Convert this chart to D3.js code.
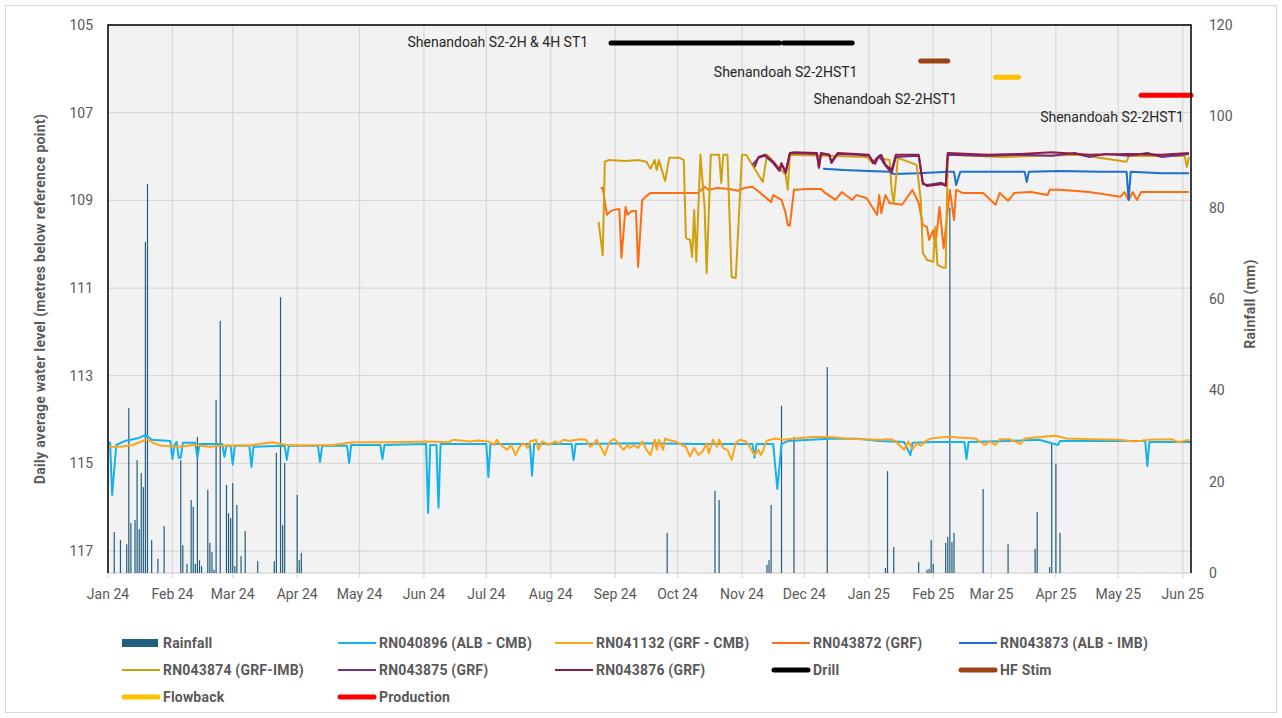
<!DOCTYPE html>
<meta charset="utf-8">
<style>
body { margin: 0; background: #fff; }
text { font-family: Roboto, "Open Sans", sans-serif; }
.tick-label { font-size: 14px; fill: #595959; }
.axis-title { font-size: 14px; font-weight: bold; fill: #595959; letter-spacing: 0.3px; }
.legend text { font-size: 14px; font-weight: bold; fill: #595959; letter-spacing: 0.2px; }
.note { font-size: 14px; fill: #262626; }
.grid line { stroke: #d9d9d9; stroke-width: 1.3px; }
.series { fill: none; stroke-width: 2px; stroke-linejoin: round; }
.event { stroke-width: 5px; stroke-linecap: round; }
</style>
<svg width="1282" height="718"></svg>
<script src="https://cdn.jsdelivr.net/npm/d3@7"></script>
<script>

// ---- data ----
var monthTicks = ["2024-01-01","2024-02-01","2024-03-01","2024-04-01","2024-05-01","2024-06-01","2024-07-01","2024-08-01","2024-09-01","2024-10-01","2024-11-01","2024-12-01","2025-01-01","2025-02-01","2025-03-01","2025-04-01","2025-05-01","2025-06-01"];
var levelTicks = [105, 107, 109, 111, 113, 115, 117];
var rainTicks = [0, 20, 40, 60, 80, 100, 120];

var rainfall = [["2024-01-04",9.0],["2024-01-07",7.2],["2024-01-10",6.3],["2024-01-11",36.1],["2024-01-12",10.9],["2024-01-14",11.6],["2024-01-15",24.7],["2024-01-16",9.6],["2024-01-17",21.9],["2024-01-18",18.8],["2024-01-19",72.5],["2024-01-20",85.2],["2024-01-22",7.2],["2024-01-25",3.1],["2024-01-28",10.3],["2024-02-05",24.7],["2024-02-06",6.1],["2024-02-08",2.0],["2024-02-10",16.0],["2024-02-11",14.5],["2024-02-12",2.0],["2024-02-13",29.8],["2024-02-14",2.8],["2024-02-15",1.5],["2024-02-18",18.2],["2024-02-19",6.6],["2024-02-20",4.6],["2024-02-21",0.7],["2024-02-22",37.9],["2024-02-24",55.2],["2024-02-27",19.3],["2024-02-28",13.1],["2024-02-29",12.0],["2024-03-01",19.7],["2024-03-02",1.5],["2024-03-03",14.9],["2024-03-05",3.7],["2024-03-07",9.2],["2024-03-13",2.6],["2024-03-21",2.6],["2024-03-22",26.3],["2024-03-24",60.4],["2024-03-25",10.5],["2024-03-26",24.1],["2024-04-01",17.1],["2024-04-02",2.8],["2024-04-03",4.4],["2024-09-26",8.8],["2024-10-19",18.0],["2024-10-21",16.0],["2024-11-13",1.8],["2024-11-14",2.8],["2024-11-15",14.9],["2024-11-20",36.6],["2024-11-26",29.8],["2024-12-12",45.1],["2025-01-09",1.1],["2025-01-10",22.3],["2025-01-13",5.7],["2025-01-25",2.4],["2025-01-29",0.7],["2025-01-30",0.9],["2025-01-31",7.2],["2025-02-01",2.0],["2025-02-07",6.6],["2025-02-08",7.9],["2025-02-09",80.0],["2025-02-10",6.8],["2025-02-11",8.8],["2025-02-25",18.4],["2025-03-09",6.3],["2025-03-22",5.3],["2025-03-23",13.4],["2025-03-29",1.3],["2025-03-30",28.2],["2025-04-01",23.9],["2025-04-03",8.8]];

var rn040896 = [["2024-01-01",114.53],["2024-01-02",114.53],["2024-01-03",115.72],["2024-01-05",114.58],["2024-01-09",114.49],["2024-01-16",114.42],["2024-01-19",114.35],["2024-01-22",114.46],["2024-01-31",114.49],["2024-02-01",114.90],["2024-02-02",114.58],["2024-02-03",114.51],["2024-02-04",114.87],["2024-02-05",114.87],["2024-02-06",114.53],["2024-02-12",114.53],["2024-02-13",114.87],["2024-02-14",114.56],["2024-02-25",114.56],["2024-02-26",114.85],["2024-02-27",114.60],["2024-02-29",114.60],["2024-03-01",115.03],["2024-03-02",114.60],["2024-03-09",114.60],["2024-03-10",115.08],["2024-03-11",114.62],["2024-03-26",114.60],["2024-03-27",114.92],["2024-03-28",114.60],["2024-04-11",114.60],["2024-04-12",114.97],["2024-04-13",114.60],["2024-04-25",114.60],["2024-04-26",114.99],["2024-04-27",114.58],["2024-05-11",114.58],["2024-05-12",114.90],["2024-05-13",114.58],["2024-06-02",114.56],["2024-06-03",116.13],["2024-06-04",114.58],["2024-06-07",114.58],["2024-06-08",116.01],["2024-06-09",114.56],["2024-07-01",114.56],["2024-07-02",115.31],["2024-07-03",114.56],["2024-07-22",114.56],["2024-07-23",115.28],["2024-07-24",114.56],["2024-08-11",114.56],["2024-08-12",114.92],["2024-08-13",114.56],["2024-09-15",114.54],["2024-10-10",114.56],["2024-11-06",114.56],["2024-11-07",114.87],["2024-11-08",114.56],["2024-11-16",114.56],["2024-11-18",115.58],["2024-11-20",114.56],["2024-11-23",114.49],["2024-12-13",114.44],["2024-12-27",114.44],["2025-01-06",114.49],["2025-01-18",114.51],["2025-01-21",114.81],["2025-01-22",114.53],["2025-02-01",114.51],["2025-02-16",114.51],["2025-02-17",114.90],["2025-02-18",114.51],["2025-03-09",114.49],["2025-03-24",114.46],["2025-04-02",114.58],["2025-04-03",114.49],["2025-04-21",114.49],["2025-05-14",114.49],["2025-05-15",115.06],["2025-05-16",114.51],["2025-06-05",114.51]];

var rn041132 = [["2024-01-01",114.62],["2024-01-07",114.62],["2024-01-13",114.58],["2024-01-17",114.50],["2024-01-20",114.45],["2024-01-23",114.54],["2024-01-27",114.60],["2024-02-04",114.62],["2024-02-11",114.58],["2024-02-19",114.62],["2024-02-27",114.59],["2024-03-09",114.59],["2024-03-20",114.52],["2024-03-27",114.58],["2024-04-05",114.59],["2024-04-18",114.58],["2024-04-28",114.52],["2024-05-12",114.52],["2024-05-24",114.51],["2024-06-02",114.50],["2024-06-13",114.52],["2024-06-15",114.46],["2024-06-23",114.50],["2024-06-27",114.48],["2024-07-02",114.50],["2024-07-05",114.58],["2024-07-06",114.46],["2024-07-08",114.58],["2024-07-11",114.69],["2024-07-13",114.58],["2024-07-15",114.81],["2024-07-17",114.62],["2024-07-19",114.54],["2024-07-21",114.65],["2024-07-22",114.50],["2024-07-25",114.46],["2024-07-26",114.69],["2024-07-28",114.50],["2024-07-31",114.58],["2024-08-03",114.50],["2024-08-05",114.54],["2024-08-07",114.46],["2024-08-10",114.49],["2024-08-15",114.45],["2024-08-18",114.46],["2024-08-20",114.62],["2024-08-22",114.54],["2024-08-23",114.46],["2024-08-25",114.62],["2024-08-27",114.81],["2024-08-29",114.54],["2024-08-31",114.45],["2024-09-01",114.46],["2024-09-03",114.58],["2024-09-05",114.69],["2024-09-07",114.58],["2024-09-08",114.65],["2024-09-10",114.58],["2024-09-12",114.65],["2024-09-14",114.50],["2024-09-16",114.69],["2024-09-18",114.81],["2024-09-20",114.46],["2024-09-21",114.69],["2024-09-22",114.46],["2024-09-24",114.69],["2024-09-25",114.43],["2024-09-26",114.46],["2024-09-30",114.50],["2024-10-03",114.58],["2024-10-05",114.62],["2024-10-07",114.84],["2024-10-09",114.65],["2024-10-11",114.81],["2024-10-13",114.73],["2024-10-15",114.54],["2024-10-16",114.77],["2024-10-18",114.46],["2024-10-20",114.62],["2024-10-21",114.46],["2024-10-23",114.65],["2024-10-25",114.69],["2024-10-27",114.92],["2024-10-29",114.54],["2024-10-31",114.46],["2024-11-03",114.50],["2024-11-05",114.65],["2024-11-06",114.73],["2024-11-07",114.81],["2024-11-09",114.69],["2024-11-10",114.81],["2024-11-11",114.73],["2024-11-12",114.58],["2024-11-13",114.48],["2024-11-17",114.43],["2024-11-21",114.46],["2024-11-26",114.43],["2024-12-05",114.40],["2024-12-13",114.40],["2024-12-21",114.43],["2024-12-29",114.45],["2025-01-06",114.46],["2025-01-12",114.45],["2025-01-14",114.50],["2025-01-18",114.69],["2025-01-20",114.50],["2025-01-22",114.68],["2025-01-24",114.54],["2025-01-26",114.60],["2025-01-28",114.50],["2025-01-31",114.43],["2025-02-04",114.41],["2025-02-09",114.39],["2025-02-13",114.41],["2025-02-21",114.43],["2025-02-26",114.58],["2025-02-28",114.50],["2025-03-03",114.58],["2025-03-05",114.45],["2025-03-10",114.45],["2025-03-15",114.56],["2025-03-17",114.43],["2025-03-26",114.39],["2025-04-01",114.37],["2025-04-06",114.43],["2025-04-19",114.45],["2025-05-01",114.46],["2025-05-09",114.50],["2025-05-16",114.46],["2025-05-27",114.45],["2025-05-30",114.52],["2025-06-04",114.46]];

var rn043872 = [["2024-08-25",108.72],["2024-08-26",108.72],["2024-08-28",109.33],["2024-08-30",109.24],["2024-09-02",109.20],["2024-09-03",109.20],["2024-09-04",110.31],["2024-09-06",109.15],["2024-09-07",109.33],["2024-09-09",109.24],["2024-09-11",109.24],["2024-09-12",110.52],["2024-09-14",108.99],["2024-09-15",108.95],["2024-09-16",108.90],["2024-09-18",108.83],["2024-10-07",108.83],["2024-10-11",108.83],["2024-10-14",108.69],["2024-10-16",108.76],["2024-10-20",108.72],["2024-10-26",108.74],["2024-10-30",108.78],["2024-11-02",108.72],["2024-11-06",108.69],["2024-11-08",108.76],["2024-11-12",108.92],["2024-11-15",109.04],["2024-11-16",108.88],["2024-11-20",108.99],["2024-11-22",109.29],["2024-11-23",109.56],["2024-11-24",109.58],["2024-11-26",108.76],["2024-12-03",108.74],["2024-12-09",108.74],["2024-12-11",108.83],["2024-12-16",108.99],["2024-12-19",108.81],["2024-12-24",108.99],["2024-12-26",108.88],["2024-12-31",108.95],["2025-01-05",109.33],["2025-01-06",108.88],["2025-01-07",109.29],["2025-01-09",108.88],["2025-01-11",109.06],["2025-01-17",109.10],["2025-01-22",108.76],["2025-01-25",109.06],["2025-01-27",109.56],["2025-01-29",109.61],["2025-01-30",109.90],["2025-02-01",109.68],["2025-02-02",110.06],["2025-02-04",109.15],["2025-02-06",110.09],["2025-02-09",108.76],["2025-02-11",109.45],["2025-02-12",108.76],["2025-02-15",108.83],["2025-02-25",108.83],["2025-03-03",109.10],["2025-03-05",108.83],["2025-03-09",109.01],["2025-03-12",108.83],["2025-03-20",108.81],["2025-03-28",108.88],["2025-03-29",108.76],["2025-04-03",108.76],["2025-04-17",108.81],["2025-05-02",108.92],["2025-05-04",108.81],["2025-05-06",108.99],["2025-05-08",108.81],["2025-05-10",108.99],["2025-05-12",108.81],["2025-05-22",108.81],["2025-06-04",108.81]];

var rn043873 = [["2024-12-10",108.28],["2024-12-20",108.31],["2025-01-01",108.33],["2025-01-11",108.35],["2025-01-13",108.40],["2025-01-25",108.38],["2025-02-08",108.35],["2025-02-11",108.35],["2025-02-12",108.65],["2025-02-14",108.35],["2025-03-05",108.35],["2025-03-17",108.35],["2025-03-18",108.58],["2025-03-19",108.35],["2025-04-03",108.33],["2025-04-22",108.35],["2025-05-05",108.35],["2025-05-06",108.99],["2025-05-07",108.35],["2025-05-22",108.38],["2025-06-04",108.38]];

var rn043874 = [["2024-08-24",109.49],["2024-08-26",110.25],["2024-08-27",108.12],["2024-08-29",108.08],["2024-09-06",108.10],["2024-09-12",108.08],["2024-09-16",108.12],["2024-09-18",108.28],["2024-09-20",108.08],["2024-09-21",108.31],["2024-09-22",108.08],["2024-09-25",108.56],["2024-09-27",108.03],["2024-10-02",108.03],["2024-10-04",108.08],["2024-10-05",109.86],["2024-10-07",109.90],["2024-10-08",110.29],["2024-10-09",109.22],["2024-10-10",110.40],["2024-10-12",107.96],["2024-10-14",109.15],["2024-10-15",110.66],["2024-10-17",107.96],["2024-10-21",107.96],["2024-10-22",108.60],["2024-10-23",107.96],["2024-10-25",107.96],["2024-10-27",110.75],["2024-10-29",110.77],["2024-11-01",107.96],["2024-11-03",107.96],["2024-11-11",108.58],["2024-11-13",107.96],["2024-11-22",108.42],["2024-11-23",108.76],["2024-11-24",107.96],["2024-12-31",108.01],["2025-01-03",108.15],["2025-01-05",108.03],["2025-01-11",108.08],["2025-01-12",108.76],["2025-01-13",109.06],["2025-01-15",108.03],["2025-01-24",108.19],["2025-01-26",108.99],["2025-01-27",110.20],["2025-01-29",110.36],["2025-02-01",110.40],["2025-02-02",109.61],["2025-02-03",110.47],["2025-02-06",110.54],["2025-02-07",110.54],["2025-02-08",107.96],["2025-03-06",108.01],["2025-04-12",107.96],["2025-05-05",108.12],["2025-05-06",107.99],["2025-06-02",107.99],["2025-06-03",108.24],["2025-06-04",108.01]];

var rn043875 = [["2024-11-06",108.19],["2024-11-09",108.03],["2024-11-12",107.98],["2024-11-16",108.15],["2024-11-19",108.33],["2024-11-20",108.17],["2024-11-22",108.38],["2024-11-24",107.94],["2024-11-26",107.92],["2024-12-07",107.94],["2024-12-08",108.26],["2024-12-09",107.94],["2024-12-13",107.96],["2024-12-14",108.15],["2024-12-17",107.94],["2024-12-27",107.96],["2025-01-01",107.98],["2025-01-04",108.17],["2025-01-06",107.98],["2025-01-09",108.21],["2025-01-12",108.38],["2025-01-14",108.01],["2025-01-25",107.98],["2025-01-27",108.63],["2025-01-29",108.65],["2025-02-05",108.60],["2025-02-07",108.65],["2025-02-08",107.96],["2025-02-27",107.98],["2025-03-15",107.96],["2025-03-30",107.98],["2025-04-10",107.92],["2025-04-17",108.01],["2025-04-25",107.94],["2025-05-06",107.98],["2025-05-15",107.92],["2025-05-22",108.01],["2025-06-04",107.94]];

var rn043876 = [["2024-11-07",108.24],["2024-11-09",108.01],["2024-11-12",107.96],["2024-11-16",108.12],["2024-11-19",108.31],["2024-11-20",108.15],["2024-11-22",108.35],["2024-11-24",107.92],["2024-11-26",107.90],["2024-12-07",107.92],["2024-12-08",108.24],["2024-12-09",107.92],["2024-12-13",107.96],["2024-12-14",108.12],["2024-12-17",107.92],["2025-01-01",107.96],["2025-01-03",108.15],["2025-01-05",108.03],["2025-01-07",107.96],["2025-01-09",108.19],["2025-01-12",108.31],["2025-01-14",107.96],["2025-01-25",107.96],["2025-01-27",108.60],["2025-01-29",108.67],["2025-02-05",108.63],["2025-02-07",108.67],["2025-02-08",107.92],["2025-02-27",107.96],["2025-03-15",107.94],["2025-03-30",107.90],["2025-04-17",107.96],["2025-05-06",107.94],["2025-05-22",107.96],["2025-06-04",107.92]];

// activity bars: [start, end, level]
var drill = [["2024-08-30","2024-11-19",105.41],["2024-11-21","2024-12-24",105.41]];
var hfStim = [["2025-01-26","2025-02-08",105.82]];
var flowback = [["2025-03-03","2025-03-14",106.19]];
var production = [["2025-05-12","2025-06-05",106.60]];

// well labels: [date, level, text, anchor]
var wellLabels = [
    ["2024-08-19", 105.39, "Shenandoah S2-2H & 4H ST1", "end"],
    ["2024-11-22", 106.07, "Shenandoah S2-2HST1", "middle"],
    ["2025-01-09", 106.69, "Shenandoah S2-2HST1", "middle"],
    ["2025-04-28", 107.10, "Shenandoah S2-2HST1", "middle"]
];

// ---- chart ----
var parse = d3.timeParse("%Y-%m-%d");
var svg = d3.select("svg"),
    plot = {left: 108, right: 1191, top: 25, bottom: 573};

var x = d3.scaleTime()
    .domain([parse("2024-01-01"), parse("2025-06-05")])
    .range([plot.left, plot.right]);
var yL = d3.scaleLinear().domain([105, 117.5]).range([plot.top, plot.bottom]);
var yR = d3.scaleLinear().domain([0, 120]).range([plot.bottom, plot.top]);

svg.append("rect")
    .attr("x", 5.5).attr("y", 5.5).attr("width", 1271).attr("height", 707)
    .attr("fill", "#fff").attr("stroke", "#d9d9d9");

svg.append("rect")
    .attr("x", plot.left).attr("y", plot.top)
    .attr("width", plot.right - plot.left).attr("height", plot.bottom - plot.top)
    .attr("fill", "#f2f2f2");

var grid = svg.append("g").attr("class", "grid");
grid.selectAll(".v").data(monthTicks).enter().append("line")
    .attr("x1", function(d) { return x(parse(d)); })
    .attr("x2", function(d) { return x(parse(d)); })
    .attr("y1", plot.top).attr("y2", plot.bottom + 5);
grid.selectAll(".h").data(levelTicks).enter().append("line")
    .attr("x1", plot.left).attr("x2", plot.right)
    .attr("y1", function(d) { return yL(d); })
    .attr("y2", function(d) { return yL(d); });
grid.append("line")
    .attr("x1", plot.left).attr("x2", plot.right)
    .attr("y1", plot.bottom).attr("y2", plot.bottom);

// rainfall columns
svg.append("g").selectAll("rect")
    .data(rainfall)
    .enter().append("rect")
    .attr("x", function(d) { return x(parse(d[0])) - 0.6; })
    .attr("width", 1.2)
    .attr("y", function(d) { return yR(d[1]); })
    .attr("height", function(d) { return plot.bottom - yR(d[1]); })
    .attr("fill", "#215f80");

var line = d3.line()
    .x(function(d) { return x(parse(d[0])); })
    .y(function(d) { return yL(d[1]); });

var seriesList = [
    {name: "RN040896 (ALB - CMB)", data: rn040896, color: "#12b2ee"},
    {name: "RN041132 (GRF - CMB)", data: rn041132, color: "#ffa31a"},
    {name: "RN043872 (GRF)", data: rn043872, color: "#ff6d12"},
    {name: "RN043873 (ALB - IMB)", data: rn043873, color: "#1a6fd0"},
    {name: "RN043874 (GRF-IMB)", data: rn043874, color: "#d1a00e"},
    {name: "RN043875 (GRF)", data: rn043875, color: "#702f8a"},
    {name: "RN043876 (GRF)", data: rn043876, color: "#8e1a48"}
];

svg.append("g").selectAll("path")
    .data(seriesList)
    .enter().append("path")
    .attr("class", "series")
    .attr("stroke", function(d) { return d.color; })
    .attr("d", function(d) { return line(d.data); });

var events = [
    {name: "Drill", data: drill, color: "#000000"},
    {name: "HF Stim", data: hfStim, color: "#9c4313"},
    {name: "Flowback", data: flowback, color: "#ffc000"},
    {name: "Production", data: production, color: "#ff0000"}
];

events.forEach(function(ev) {
    svg.append("g").selectAll("line")
        .data(ev.data)
        .enter().append("line")
        .attr("class", "event")
        .attr("stroke", ev.color)
        .attr("x1", function(d) { return x(parse(d[0])); })
        .attr("x2", function(d) { return x(parse(d[1])); })
        .attr("y1", function(d) { return yL(d[2]); })
        .attr("y2", function(d) { return yL(d[2]); });
});

svg.append("g").selectAll("text")
    .data(wellLabels)
    .enter().append("text")
    .attr("class", "note")
    .attr("x", function(d) { return x(parse(d[0])); })
    .attr("y", function(d) { return yL(d[1]); })
    .attr("dy", "0.35em")
    .attr("text-anchor", function(d) { return d[3]; })
    .text(function(d) { return d[2]; });

// plot frame (left, top, right)
svg.append("path")
    .attr("d", "M" + plot.left + "," + plot.bottom + "V" + plot.top + "H" + plot.right + "V" + plot.bottom)
    .attr("fill", "none").attr("stroke", "#000").attr("stroke-width", 1.5);

// axes labels
var fmt = d3.timeFormat("%b %y");
svg.append("g").selectAll("text")
    .data(monthTicks)
    .enter().append("text")
    .attr("class", "tick-label")
    .attr("x", function(d) { return x(parse(d)); })
    .attr("y", 599)
    .attr("text-anchor", "middle")
    .text(function(d) { return fmt(parse(d)); });

svg.append("g").selectAll("text")
    .data(levelTicks)
    .enter().append("text")
    .attr("class", "tick-label")
    .attr("x", 93)
    .attr("y", function(d) { return yL(d); })
    .attr("dy", "0.35em")
    .attr("text-anchor", "end")
    .text(function(d) { return d; });

svg.append("g").selectAll("text")
    .data(rainTicks)
    .enter().append("text")
    .attr("class", "tick-label")
    .attr("x", 1209)
    .attr("y", function(d) { return yR(d); })
    .attr("dy", "0.35em")
    .text(function(d) { return d; });

svg.append("text")
    .attr("class", "axis-title")
    .attr("transform", "translate(45,299) rotate(-90)")
    .attr("text-anchor", "middle")
    .text("Daily average  water level (metres below reference point)");

svg.append("text")
    .attr("class", "axis-title")
    .attr("transform", "translate(1255,304) rotate(-90)")
    .attr("text-anchor", "middle")
    .text("Rainfall (mm)");

// legend
var legendItems = [
    {name: "Rainfall", kind: "bar", color: "#215f80"}
].concat(seriesList.map(function(s) { return {name: s.name, kind: "line", color: s.color}; }))
 .concat(events.map(function(e) { return {name: e.name, kind: "event", color: e.color}; }));

var colX = [122, 338, 555, 772, 959],
    rowY = [643, 670, 697];

var legend = svg.append("g").attr("class", "legend")
    .selectAll("g")
    .data(legendItems)
    .enter().append("g")
    .attr("transform", function(d, i) {
        return "translate(" + colX[i % 5] + "," + rowY[Math.floor(i / 5)] + ")";
    });

legend.each(function(d) {
    var g = d3.select(this);
    if (d.kind === "bar") {
        g.append("rect").attr("x", 0).attr("y", -4).attr("width", 36).attr("height", 8).attr("fill", d.color);
    } else {
        g.append("line")
            .attr("x1", d.kind === "event" ? 2 : 0)
            .attr("x2", d.kind === "event" ? 36 : 38)
            .attr("stroke", d.color)
            .attr("stroke-width", d.kind === "event" ? 5 : 2)
            .attr("stroke-linecap", d.kind === "event" ? "round" : "butt");
    }
    g.append("text").attr("x", 41).attr("dy", "0.35em").text(d.name);
});

</script>
